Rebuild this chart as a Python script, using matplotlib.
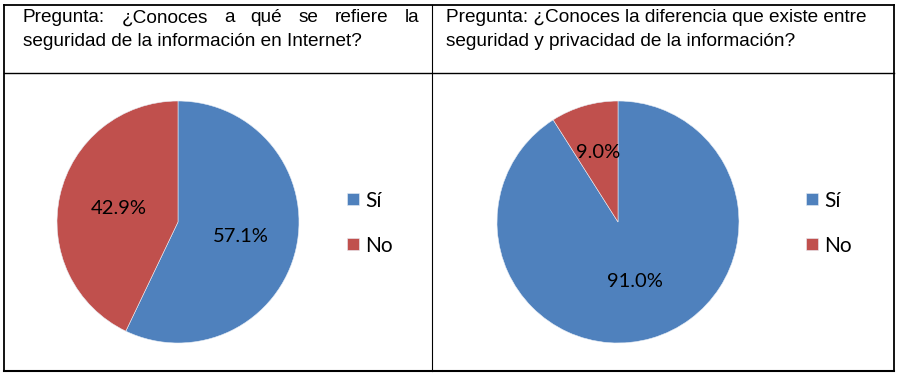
import matplotlib
matplotlib.use("Agg")
import matplotlib.pyplot as plt
import numpy as np
from matplotlib.lines import Line2D

W, H = 898, 378

# data
categories = ["Sí", "No"]
colors = ["#4F81BD", "#C0504D"]
q1_values = [57.1, 42.9]
q2_values = [91.0, 9.0]
q1_title = ["Pregunta: ¿Conoces a qué se refiere la",
            "seguridad de la información en Internet?"]
q2_title = ["Pregunta: ¿Conoces la diferencia que existe entre",
            "seguridad y privacidad de la información?"]

fig = plt.figure(figsize=(W / 100, H / 100), dpi=100)
fig.patch.set_facecolor("white")


def px(x, y):
    return x / W, 1 - y / H


def hline(y, x0, x1, lw):
    a, b = px(x0, y)
    c, d = px(x1, y)
    fig.add_artist(Line2D([a, c], [b, d], color="black", lw=lw, transform=fig.transFigure))


def vline(x, y0, y1, lw):
    a, b = px(x, y0)
    c, d = px(x, y1)
    fig.add_artist(Line2D([a, c], [b, d], color="black", lw=lw, transform=fig.transFigure))


# table grid
hline(5, 4, 894, 1.3)
hline(73, 4, 894, 1.0)
hline(371, 4, 894, 1.5)
vline(4, 5, 371, 1.3)
vline(894, 5, 371, 1.3)
vline(432, 5, 371, 0.8)

head_font = dict(family="Liberation Sans", size=13.7, color="black")


def header(lines, x0, x1, justify_first):
    renderer = fig.canvas.get_renderer()
    ys = [18, 42]
    for i, (line, y) in enumerate(zip(lines, ys)):
        if justify_first and i == 0:
            words = line.split(" ")
            texts = [fig.text(0, 0, w, va="center", **head_font) for w in words]
            widths = [t.get_window_extent(renderer).width for t in texts]
            gap = (x1 - x0 - sum(widths)) / (len(words) - 1)
            x = x0
            for t, w in zip(texts, widths):
                t.set_position(px(x, y))
                x += w + gap
        else:
            fig.text(*px(x0, y), line, va="center", **head_font)


header(q1_title, 23, 419, True)
header(q2_title, 446, 879, False)

label_font = dict(family="Lato", size=14.5, color="black")


def pie_panel(values, cx, cy, r, label_dist, legend_x):
    ax = fig.add_axes([(cx - r) / W, (H - cy - r) / H, 2 * r / W, 2 * r / H])
    wedges, _ = ax.pie(values, colors=colors, startangle=90, counterclock=False,
                       wedgeprops=dict(edgecolor="#E8EEF6", linewidth=0.4))
    for wdg, v, d in zip(wedges, values, label_dist):
        ang = np.deg2rad((wdg.theta1 + wdg.theta2) / 2)
        ax.text(d * np.cos(ang), d * np.sin(ang), f"{v:.1f}%", ha="center", va="center",
                **label_font)
    ax.set_xlim(-1, 1)
    ax.set_ylim(-1, 1)
    ax.set_aspect("equal")
    ax.axis("off")
    fig.legend(wedges, categories, loc="center left",
               bbox_to_anchor=px(legend_x, 223), frameon=False,
               prop=dict(family="Lato", size=15), handlelength=0.56,
               handleheight=0.56, handletextpad=0.3, labelspacing=1.2,
               borderpad=0, borderaxespad=0)
    return ax


pie_panel(q1_values, 178, 222, 121, [0.53, 0.50], 347)
pie_panel(q2_values, 618, 222, 121, [0.515, 0.6], 806)

fig.savefig("out.png", dpi=100)
